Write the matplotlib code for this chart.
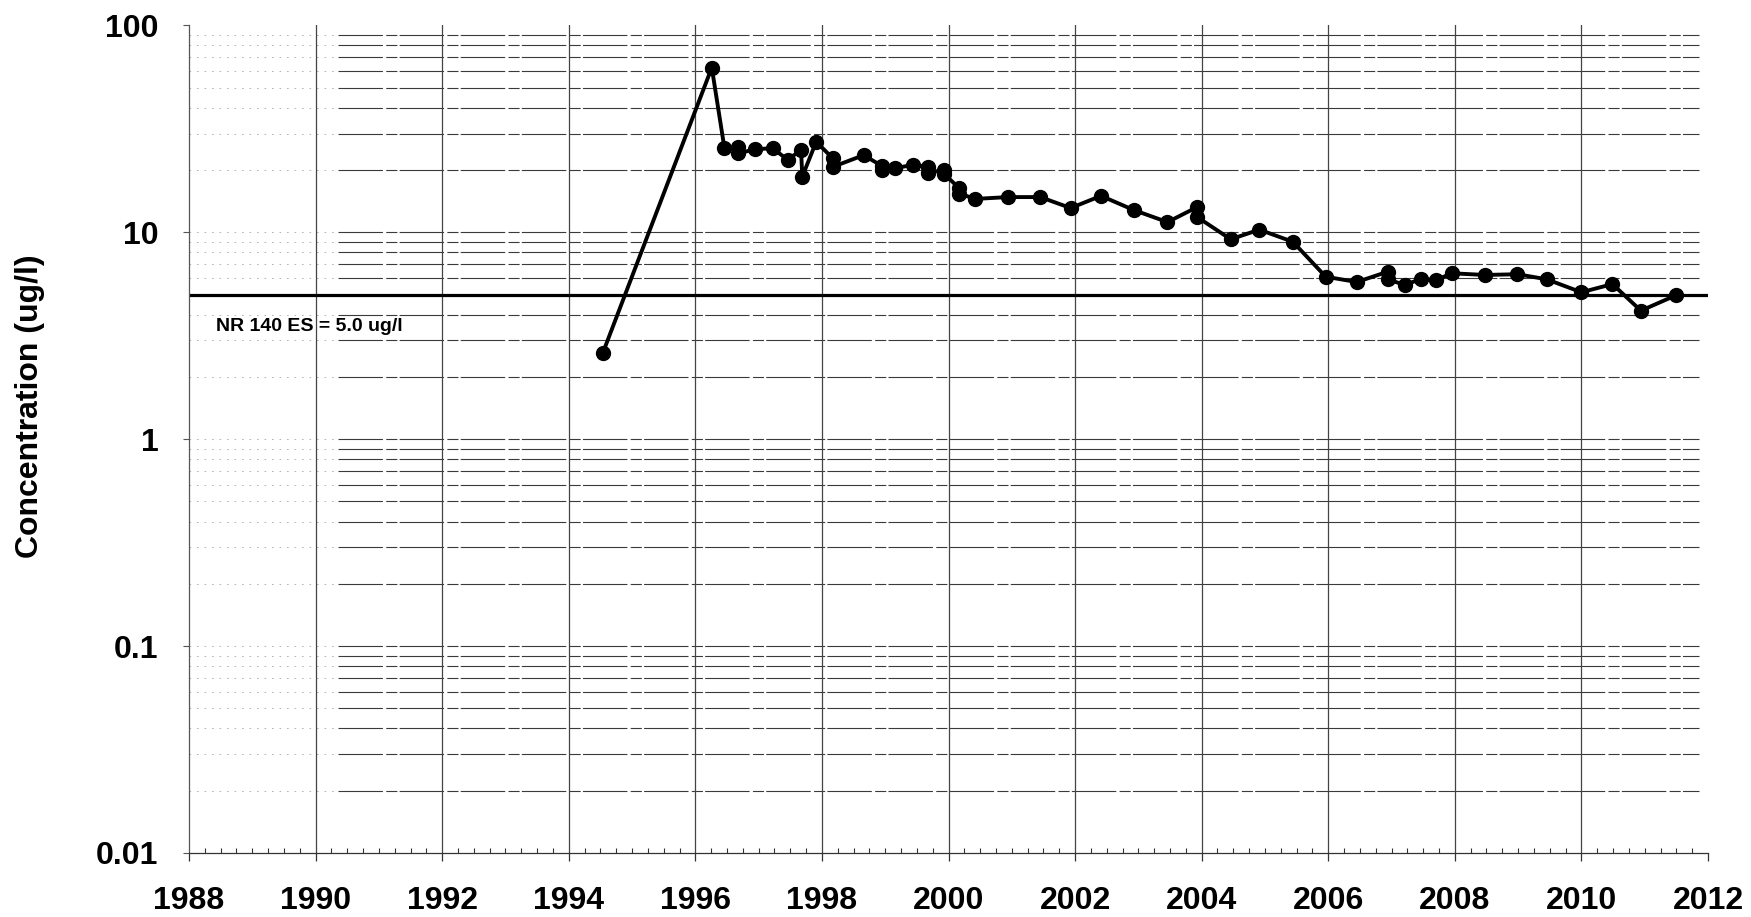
import matplotlib.pyplot as plt
from matplotlib.ticker import FixedLocator, MultipleLocator, NullFormatter
import numpy as np

plt.rcParams['font.family'] = ['Liberation Sans', 'DejaVu Sans']

# Sampling dates (decimal years) and measured concentrations (ug/l)
sample_years = [1994.54, 1996.26, 1996.46, 1996.68, 1996.68, 1996.95, 1997.22,
                1997.46, 1997.67, 1997.69, 1997.91, 1998.17, 1998.17, 1998.66,
                1998.95, 1998.95, 1999.16, 1999.44, 1999.68, 1999.68, 1999.93,
                1999.93, 2000.17, 2000.17, 2000.42, 2000.94, 2001.45, 2001.93,
                2002.41, 2002.93, 2003.46, 2003.92, 2003.92, 2004.46, 2004.91,
                2005.44, 2005.96, 2006.45, 2006.94, 2006.94, 2007.21, 2007.46,
                2007.71, 2007.95, 2008.47, 2008.99, 2009.45, 2010.00, 2010.49,
                2010.94, 2011.50]
concentration = [2.62, 62.5, 25.5, 25.8, 24.1, 25.2, 25.5,
                 22.4, 25.0, 18.6, 27.4, 22.8, 20.7, 23.6,
                 20.9, 20.1, 20.4, 21.2, 20.7, 19.4, 20.0,
                 19.2, 16.3, 15.4, 14.5, 14.8, 14.8, 13.1,
                 15.0, 12.8, 11.2, 13.2, 11.9, 9.25, 10.3,
                 9.0, 6.1, 5.75, 6.45, 5.93, 5.56, 5.95,
                 5.88, 6.34, 6.22, 6.27, 5.93, 5.13, 5.62,
                 4.18, 4.97]

standard_value = 5.0
standard_label = "NR 140 ES = 5.0 ug/l"

year_ticks = list(range(1988, 2013, 2))
conc_ticks = [0.01, 0.1, 1, 10, 100]
conc_tick_labels = ["0.01", "0.1", "1", "10", "100"]

fig = plt.figure(figsize=(17.51, 9.17), dpi=100)
ax = fig.add_axes([189 / 1751, 1 - 853 / 917, (1708 - 189) / 1751, (853 - 25.4) / 917])

ax.set_yscale('log')
ax.set_xlim(1988, 2012)
ax.set_ylim(0.01, 100)

# horizontal log grid: faint on the far left, darker across the rest
grid_vals = [k * 10.0 ** d for d in range(-2, 2) for k in range(1, 10)][1:]
ax.hlines(grid_vals, 1988, 1990.35, colors='#aaaaaa', linewidth=0.6,
          linestyles=(0, (2, 7)), zorder=1)
ax.hlines(grid_vals, 1990.35, 2011.85, colors='#3a3a3a', linewidth=0.8,
          linestyles=(0, (40, 3, 10, 2)), zorder=1)

# vertical grid every two years
for yr in year_ticks[1:-1]:
    ax.axvline(yr, color='#444444', linewidth=0.9, zorder=1)

# regulatory standard
ax.axhline(standard_value, color='black', linewidth=2.3, zorder=2)
ax.text(1988.42, 3.52, standard_label, fontsize=14, fontweight='bold',
        va='center', ha='left', zorder=3)

ax.plot(sample_years, concentration, color='black', linewidth=2.8,
        marker='o', markersize=10, markerfacecolor='black',
        markeredgecolor='black', zorder=4)

ax.spines['top'].set_visible(False)
ax.spines['right'].set_visible(False)
ax.spines['left'].set_color('#555555')
ax.spines['left'].set_linewidth(0.9)
ax.spines['bottom'].set_color('#333333')
ax.spines['bottom'].set_linewidth(0.9)

ax.xaxis.set_major_locator(FixedLocator(year_ticks))
ax.set_xticklabels([str(y) for y in year_ticks])
ax.xaxis.set_minor_locator(MultipleLocator(0.25))
ax.tick_params(axis='x', which='major', direction='out', length=6, width=0.9,
               color='#333333', pad=18, labelsize=23)
ax.tick_params(axis='x', which='minor', direction='in', length=3.5, width=0.8,
               color='#333333')

ax.yaxis.set_major_locator(FixedLocator(conc_ticks))
ax.set_yticklabels(conc_tick_labels)
ax.yaxis.set_minor_formatter(NullFormatter())
ax.tick_params(axis='y', which='major', direction='out', length=4, width=0.8,
               color='#555555', pad=18, labelsize=23)
ax.tick_params(axis='y', which='minor', length=0)

for lbl in ax.get_xticklabels() + ax.get_yticklabels():
    lbl.set_fontweight('bold')

fig.text(30 / 1751, 1 - 406 / 917, "Concentration (ug/l)", rotation=90,
         fontsize=23, fontweight='bold', ha='center', va='center')

fig.savefig("out.png", dpi=100)
